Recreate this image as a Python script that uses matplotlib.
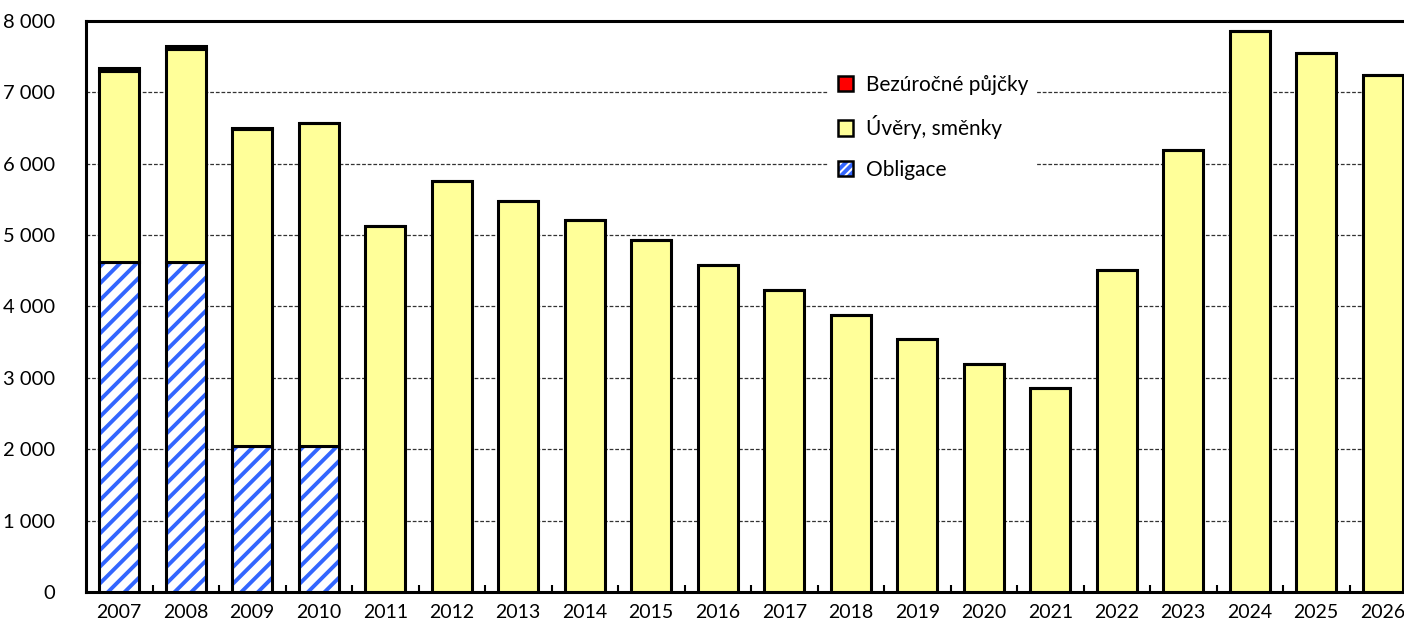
import matplotlib.pyplot as plt
from matplotlib.patches import Patch
from matplotlib.legend_handler import HandlerBase
from matplotlib.patches import Rectangle
from matplotlib.ticker import FuncFormatter, MultipleLocator
import numpy as np

plt.rcParams['font.family'] = ['Lato', 'DejaVu Sans']
plt.rcParams['hatch.linewidth'] = 2.8

years = [str(y) for y in range(2007, 2027)]
obligace = [4620, 4620, 2040, 2040, 0, 0, 0, 0, 0, 0,
            0, 0, 0, 0, 0, 0, 0, 0, 0, 0]
uvery = [2680, 2990, 4450, 4535, 5128, 5758, 5478, 5212, 4932, 4580,
         4231, 3881, 3540, 3194, 2854, 4516, 6193, 7864, 7556, 7243]
bezurocne = [45, 40, 15, 0, 0, 0, 0, 0, 0, 0,
             0, 0, 0, 0, 0, 0, 0, 0, 0, 0]

BLUE = '#3366ff'
YELLOW = '#ffff99'

fig = plt.figure(figsize=(14.04, 6.32), dpi=100)
ax = fig.add_axes([86/1404, 40/632, 1330/1404, 571/632])

x = np.arange(len(years))
w = 0.6
lw = 2.2
# hatch layer (blue stripes), then black outline on top
ax.bar(x, obligace, w, color='white', edgecolor=BLUE, linewidth=0,
       hatch='//', zorder=3)
ax.bar(x, obligace, w, fill=False, edgecolor='black', linewidth=lw, zorder=4)
ax.bar(x, uvery, w, bottom=obligace, color=YELLOW, edgecolor='black',
       linewidth=lw, zorder=4)
bot2 = np.array(obligace) + np.array(uvery)
ax.bar(x, bezurocne, w, bottom=bot2, color='#ff0000', edgecolor='black',
       linewidth=lw, zorder=4)

ax.set_xlim(-0.5, len(years) - 0.5)
ax.set_ylim(0, 8000)
ax.yaxis.set_major_locator(MultipleLocator(1000))
ax.yaxis.set_major_formatter(FuncFormatter(lambda v, p: f'{int(v):,}'.replace(',', ' ')))
ax.set_xticks(x)
ax.set_xticklabels(years)
ax.set_xticks(x[:-1] + 0.5, minor=True)
ax.tick_params(axis='x', which='major', length=0, pad=9, labelsize=14)
ax.tick_params(axis='x', which='minor', direction='in', length=5, width=1.5)
ax.tick_params(axis='y', length=0, pad=22, labelsize=14.5)

ax.grid(axis='y', color='#333333', linestyle=(0, (3, 1.5)), linewidth=0.9, zorder=1)
for s in ['left', 'top', 'bottom', 'right']:
    ax.spines[s].set_linewidth(2.2)


class HatchHandler(HandlerBase):
    def create_artists(self, legend, orig, xd, yd, width, height, fontsize, trans):
        r1 = Rectangle((-xd, -yd), width, height, facecolor='white',
                       edgecolor=BLUE, linewidth=0, hatch='////', transform=trans)
        r2 = Rectangle((-xd, -yd), width, height, fill=False,
                       edgecolor='black', linewidth=1.8, transform=trans)
        return [r1, r2]


h_obl = Patch(label='Obligace')
handles = [
    Patch(facecolor='#ff0000', edgecolor='black', linewidth=1.8, label='Bezúročné půjčky'),
    Patch(facecolor=YELLOW, edgecolor='black', linewidth=1.8, label='Úvěry, směnky'),
    h_obl,
]
leg = ax.legend(handles=handles, loc='upper left', bbox_to_anchor=(0.558, 0.922),
                frameon=True, facecolor='white', edgecolor='none', fancybox=False,
                fontsize=15, handlelength=0.75, handleheight=0.75, labelspacing=0.98,
                handletextpad=0.6, borderpad=0.45, borderaxespad=0,
                handler_map={h_obl: HatchHandler()})
leg.get_frame().set_alpha(1)
leg.set_zorder(5)

fig.savefig('out.png', dpi=100)
